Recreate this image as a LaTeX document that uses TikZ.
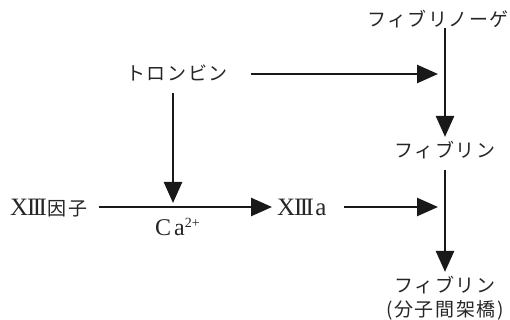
\documentclass[tikz,border=0pt]{standalone}
\usepackage{fontspec}
\setmainfont{Liberation Serif}
\newfontfamily\jp[LetterSpace=8]{Noto Sans CJK JP}
\usetikzlibrary{arrows.meta}
\newcommand{\xiiisym}{X\kern-1.2pt I\kern-2.6pt I\kern-2.6pt I}
\begin{document}
\begin{tikzpicture}[x=1pt,y=-1pt,
  lbl/.style={inner sep=0pt, text=black!85, font=\jp\fontsize{19}{22}\selectfont},
  lat/.style={inner sep=0pt, text=black!85, anchor=base west, font=\fontsize{25}{28}\selectfont},
  arr/.style={line width=2.6pt, draw=black!90, -{Triangle[length=21pt,width=18pt]}}]
\path[use as bounding box] (0,0) rectangle (510,320);
\begin{scope}
\clip (0,0) rectangle (510,320);
\node[lbl] (thr) at (177,73) {トロンビン};
\node[lbl, anchor=west] (fgn) at (367,19) {フィブリノーゲン};
\node[lbl] (fib) at (445,150) {フィブリン};
\node[lbl] (fibx) at (445,285) {フィブリン};
\node[lbl] (fibp) at (445,310) {(分子間架橋)};
\node[lat] (xiii) at (10,215) {\xiiisym\kern1pt{\jp\fontsize{19}{22}\selectfont 因子}};
\node[lat] (xiiia) at (277,215) {\xiiisym\kern1.5pt a};
\node[lat, font=\fontsize{24}{28}\selectfont] (ca) at (155,235) {C\kern3pt a\raisebox{8pt}{\fontsize{14}{15}\selectfont 2+}};
\coordinate (c1) at (445,74);
\coordinate (c2) at (445,207);
\coordinate (c3) at (173,207);
\draw[arr, shorten <=23pt, shorten >=7pt] (thr.east |- c1) -- (c1);
\draw[arr, shorten >=4pt] (fgn.south -| fib.north) -- (fib.north);
\draw[arr, shorten <=12pt, shorten >=4pt] (thr.south -| c3) -- (c3);
\draw[arr, shorten <=11pt, shorten >=5pt] (xiii.east |- c2) -- (xiiia.west |- c2);
\draw[arr, shorten <=17pt, shorten >=7pt] (xiiia.east |- c2) -- (c2);
\draw[arr, shorten <=11pt, shorten >=4pt] (fib.south) -- (fibx.north);
\end{scope}
\end{tikzpicture}
\end{document}
